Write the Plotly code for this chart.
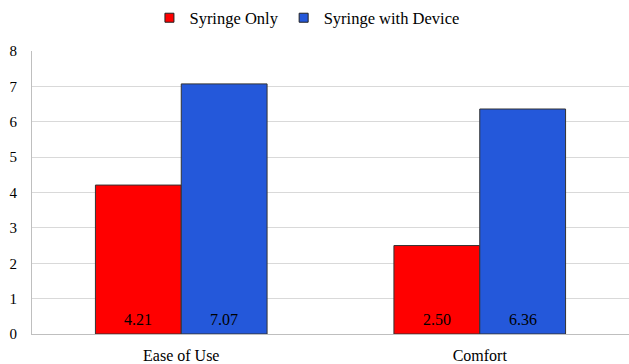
import plotly.graph_objects as go

categories = ["Ease of Use", "Comfort"]
syringe_only = [4.21, 2.50]
syringe_device = [7.07, 6.36]
series_names = ["Syringe Only", "Syringe with Device"]
y_ticks = [0, 1, 2, 3, 4, 5, 6, 7, 8]

font_family = "Liberation Serif"
W, H = 629, 364
ML, MR, MT, MB = 32, 0, 51, 30
BARGAP = 0.425

fig = go.Figure()
series = [(series_names[0], syringe_only, "#FF0000"),
          (series_names[1], syringe_device, "#2458DA")]
for name, vals, color in series:
    fig.add_trace(go.Bar(
        x=categories, y=vals, name=name, showlegend=False,
        marker=dict(color=color, line=dict(color="#333333", width=1)),
    ))
# legend entries with small outlined squares
for name, vals, color in series:
    fig.add_trace(go.Scatter(
        x=[None], y=[None], mode="markers", name=name,
        marker=dict(symbol="square", size=9, color=color,
                    line=dict(color="#222222", width=1)),
    ))

# value labels near the base of each bar
plot_w = W - ML - MR
bar_px = plot_w / len(categories) * (1 - BARGAP) / len(series)
for si, (name, vals, color) in enumerate(series):
    offset = (si - (len(series) - 1) / 2) * bar_px
    for cat, v in zip(categories, vals):
        fig.add_annotation(x=cat, y=0, text=f"{v:.2f}", showarrow=False,
                           xshift=offset, yshift=15, yanchor="middle",
                           font=dict(size=16, color="black", family=font_family))

fig.update_layout(
    width=W, height=H,
    margin=dict(l=ML, r=MR, t=MT, b=MB, autoexpand=False),
    barmode="group", bargap=BARGAP, bargroupgap=0,
    plot_bgcolor="white", paper_bgcolor="white",
    font=dict(family=font_family, size=16, color="black"),
    showlegend=True,
    legend=dict(orientation="h", x=0.488, xref="container", xanchor="center",
                yanchor="middle", yref="paper",
                font=dict(size=16.5, family=font_family, color="black"),
                itemwidth=30, traceorder="normal"),
)
fig.update_layout(legend=dict(y=1 + (MT - 18) / (H - MT - MB)))
fig.update_xaxes(showline=True, linecolor="#BFBFBF", linewidth=1, automargin=False,
                 tickfont=dict(size=16, family=font_family, color="black"),
                 ticks="", ticklabelstandoff=7)
fig.update_yaxes(range=[0, 8], tickvals=y_ticks, showgrid=True, automargin=False,
                 gridcolor="#D9D9D9", gridwidth=1, showline=True,
                 linecolor="#BFBFBF", linewidth=1, zeroline=False,
                 tickfont=dict(size=15, family=font_family, color="black"),
                 ticklabelstandoff=11)

fig.write_html("out.html", config={"displayModeBar": False},
               post_script="document.body.style.margin='0';")
